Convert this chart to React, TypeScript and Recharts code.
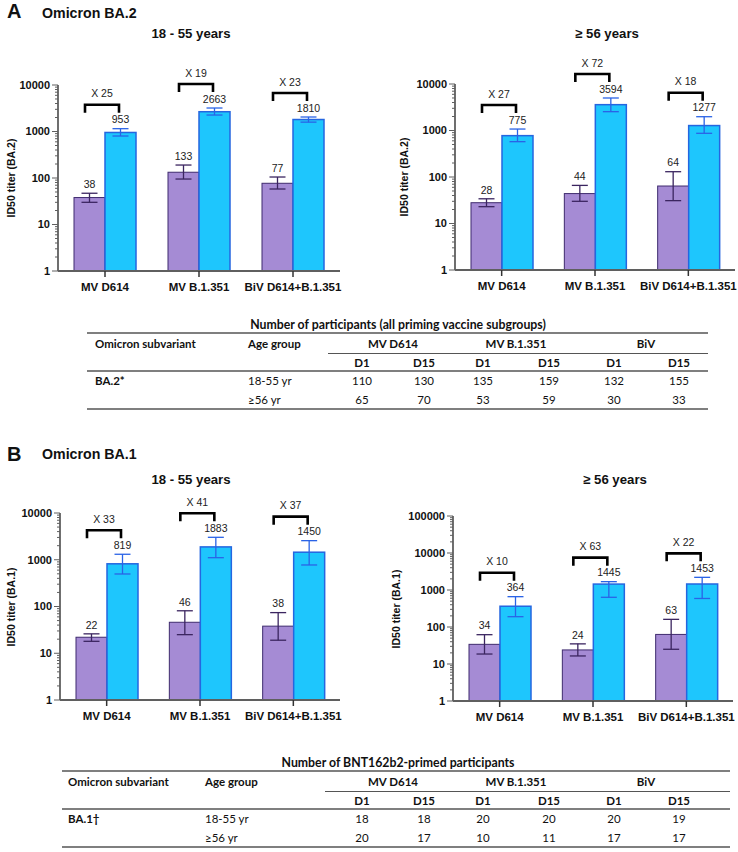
import { BarChart, Bar, XAxis, YAxis, ErrorBar } from 'recharts';

const FONT = "'Liberation Sans', Arial, sans-serif";
const TABLE_FONT = "Lato, 'Open Sans', sans-serif";
const AXIS = '#5f5f5f';
const PURPLE = '#a58bd4';
const PURPLE_EDGE = '#3f2b6e';
const BLUE = '#1ec6fd';
const BLUE_EDGE = '#2566e0';

const groups = ['MV D614', 'MV B.1.351', 'BiV D614+B.1.351'];

// A: Omicron BA.2, 18-55 years
const ba2YoungD1 = [38, 133, 77];
const ba2YoungD1Lo = [30, 95, 58];
const ba2YoungD1Hi = [47, 190, 105];
const ba2YoungD15 = [953, 2663, 1810];
const ba2YoungD15Lo = [800, 2260, 1590];
const ba2YoungD15Hi = [1150, 3200, 2050];
const ba2YoungFold = [25, 19, 23];

// A: Omicron BA.2, >= 56 years
const ba2OldD1 = [28, 44, 64];
const ba2OldD1Lo = [23, 30, 31];
const ba2OldD1Hi = [34, 66, 130];
const ba2OldD15 = [775, 3594, 1277];
const ba2OldD15Lo = [575, 2540, 870];
const ba2OldD15Hi = [1075, 5000, 1980];
const ba2OldFold = [27, 72, 18];

// B: Omicron BA.1, 18-55 years
const ba1YoungD1 = [22, 46, 38];
const ba1YoungD1Lo = [18, 25, 19];
const ba1YoungD1Hi = [26, 81, 74];
const ba1YoungD15 = [819, 1883, 1450];
const ba1YoungD15Lo = [496, 1107, 773];
const ba1YoungD15Hi = [1310, 3020, 2560];
const ba1YoungFold = [33, 41, 37];

// B: Omicron BA.1, >= 56 years
const ba1OldD1 = [34, 24, 63];
const ba1OldD1Lo = [18.6, 16.5, 25];
const ba1OldD1Hi = [62, 35, 161];
const ba1OldD15 = [364, 1445, 1453];
const ba1OldD15Lo = [190, 635, 590];
const ba1OldD15Hi = [660, 1680, 2200];
const ba1OldFold = [10, 63, 22];

const decades4 = [1, 10, 100, 1000, 10000];
const decades5 = [1, 10, 100, 1000, 10000, 100000];
const minorSteps = [2, 3, 4, 5, 6, 7, 8, 9];

// participant tables
const tableGroups = ['MV D614', 'MV B.1.351', 'BiV'];
const tableDays = ['D1', 'D15', 'D1', 'D15', 'D1', 'D15'];
const ageGroups = ['18-55 yr', '≥56 yr'];
const ba2Counts18 = [110, 130, 135, 159, 132, 155];
const ba2Counts56 = [65, 70, 53, 59, 30, 33];
const ba1Counts18 = [18, 18, 20, 20, 20, 19];
const ba1Counts56 = [20, 17, 10, 11, 17, 17];

function buildRows(d1, d1Lo, d1Hi, d15, d15Lo, d15Hi, fold) {
  return groups.map((g, i) => ({
    group: g,
    d1: d1[i],
    d1Err: [d1[i] - d1Lo[i], d1Hi[i] - d1[i]],
    d1Hi: d1Hi[i],
    d15: d15[i],
    d15Err: [d15[i] - d15Lo[i], d15Hi[i] - d15[i]],
    d15Hi: d15Hi[i],
    fold: fold[i],
  }));
}

function logTicks(decades: number[]) {
  const out: number[] = [];
  decades.forEach((d, i) => {
    out.push(d);
    if (i < decades.length - 1) minorSteps.forEach((m) => out.push(d * m));
  });
  return out;
}

// pixel y of an upper bound (base at 1)
function boundY(y: number, height: number, value: number, bound: number) {
  const perDecade = height / Math.log10(value);
  return y + height - perDecade * Math.log10(bound);
}

function LogTick(props: any) {
  const { x, y, payload } = props;
  const v = payload.value;
  const major = Math.abs(Math.log10(v) - Math.round(Math.log10(v))) < 1e-9;
  return (
    <g>
      <line x1={x - (major ? 6 : 3)} x2={x} y1={y} y2={y} stroke={AXIS} strokeWidth={1} />
      {major && (
        <text x={x - 8} y={y} dy="0.36em" textAnchor="end" fontFamily={FONT}
          fontSize={11} fontWeight={700} fill="#111">{v}</text>
      )}
    </g>
  );
}

function renderD1Bar(props: any) {
  const { x, y, width, height, payload } = props;
  const top = boundY(y, height, payload.d1, payload.d1Hi);
  return (
    <g>
      <rect x={x} y={y} width={width} height={height} fill={PURPLE} stroke={PURPLE_EDGE} strokeWidth={1} />
      <text x={x + width / 2} y={top - 9} dy="0.36em" textAnchor="middle" fontFamily={FONT}
        fontSize={10.5} fill="#222">{payload.d1}</text>
    </g>
  );
}

function renderD15Bar(props: any) {
  const { x, y, width, height, payload } = props;
  const top = boundY(y, height, payload.d15, payload.d15Hi);
  const labelY = top - 9;
  const bY = labelY - 15;
  const cx = x - 3;
  return (
    <g>
      <rect x={x} y={y} width={width} height={height} fill={BLUE} stroke={BLUE_EDGE} strokeWidth={1.5} />
      <text x={x + width / 2} y={labelY} dy="0.36em" textAnchor="middle" fontFamily={FONT}
        fontSize={10.5} fill="#222">{payload.d15}</text>
      <path d={`M${cx - 17},${bY + 8} V${bY} H${cx + 17} V${bY + 8}`} fill="none" stroke="#000" strokeWidth={2.6} />
      <text x={cx} y={bY - 11} dy="0.36em" textAnchor="middle" fontFamily={FONT}
        fontSize={10.5} fill="#222">{`X ${payload.fold}`}</text>
    </g>
  );
}

function TiterChart({ rows, left, top, width, height, axisX, plotTop, plotBottom, plotRight, decades }) {
  return (
    <div style={{ position: 'absolute', left, top }}>
      <BarChart
        width={width}
        height={height}
        data={rows}
        barGap={0}
        barSize={31}
        margin={{ top: plotTop - top, right: left + width - plotRight, bottom: 0, left: 0 }}
      >
        <XAxis
          dataKey="group"
          interval={0}
          height={top + height - plotBottom}
          tickSize={6}
          tickMargin={6}
          axisLine={{ stroke: AXIS, strokeWidth: 1.8 }}
          tickLine={{ stroke: '#333', strokeWidth: 1.5 }}
          tick={{ fontSize: 11.5, fontWeight: 700, fill: '#111', fontFamily: FONT }}
        />
        <YAxis
          type="number"
          scale="log"
          domain={[1, decades[decades.length - 1]]}
          ticks={logTicks(decades)}
          interval={0}
          width={axisX - left}
          tickSize={0}
          tickMargin={0}
          tickLine={false}
          axisLine={{ stroke: AXIS, strokeWidth: 1.8 }}
          tick={(p) => <LogTick {...p} />}
        />
        <Bar dataKey="d1" fill={PURPLE} shape={renderD1Bar} isAnimationActive={false}>
          <ErrorBar dataKey="d1Err" direction="y" width={8} stroke="#3b2560" strokeWidth={1.3} />
        </Bar>
        <Bar dataKey="d15" fill={BLUE} shape={renderD15Bar} isAnimationActive={false}>
          <ErrorBar dataKey="d15Err" direction="y" width={8} stroke="#2a63e6" strokeWidth={1.3} />
        </Bar>
      </BarChart>
    </div>
  );
}

const colX = [362, 424, 483, 549, 614, 679];
const groupX = [393, 516, 646];

function CountTable({ t, xLeft, xRight, variantX, ageX, subX, title, variant, counts }) {
  const txt = (x, y, s, opts: any = {}) => (
    <text x={x} y={y} dy="0.36em" fontFamily={TABLE_FONT} fontSize={11.5} fill="#111" {...opts}>{s}</text>
  );
  return (
    <g>
      {txt(398, t, title, { textAnchor: 'middle', fontWeight: 700, fontSize: 12.3 })}
      <line x1={xLeft} x2={xRight} y1={t + 8} y2={t + 8} stroke="#555" strokeWidth={1.3} />
      {txt(variantX, t + 18.5, 'Omicron subvariant', { fontWeight: 700 })}
      {txt(ageX, t + 18.5, 'Age group', { fontWeight: 700 })}
      {tableGroups.map((g, i) => (
        <g key={g}>{txt(groupX[i], t + 18.5, g, { textAnchor: 'middle', fontWeight: 700 })}</g>
      ))}
      <line x1={subX} x2={xRight} y1={t + 28.5} y2={t + 28.5} stroke="#555" strokeWidth={1} />
      {tableDays.map((d, i) => (
        <g key={i}>{txt(colX[i], t + 37.5, d, { textAnchor: 'middle', fontWeight: 700 })}</g>
      ))}
      <line x1={xLeft} x2={xRight} y1={t + 46} y2={t + 46} stroke="#555" strokeWidth={1.3} />
      {txt(variantX, t + 55.5, variant, { fontWeight: 700 })}
      {ageGroups.map((a, r) => (
        <g key={a}>
          {txt(ageX, t + 55.5 + r * 19, a)}
          {counts[r].map((c, i) => (
            <g key={i}>{txt(colX[i], t + 55.5 + r * 19, c, { textAnchor: 'middle' })}</g>
          ))}
        </g>
      ))}
      <line x1={xLeft} x2={xRight} y1={t + 84} y2={t + 84} stroke="#555" strokeWidth={1.3} />
    </g>
  );
}

export default function App() {
  const bold = { fontFamily: FONT, fontWeight: 700, fill: '#111' };
  const yTitle = (x, y, s) => (
    <text x={x} y={y} dy="0.36em" textAnchor="middle" transform={`rotate(-90 ${x} ${y})`}
      fontSize={10.5} {...bold}>{s}</text>
  );
  return (
    <div style={{ position: 'absolute', left: 0, top: 0, width: 738, height: 852, background: '#fff', overflow: 'hidden' }}>
      <TiterChart
        rows={buildRows(ba2YoungD1, ba2YoungD1Lo, ba2YoungD1Hi, ba2YoungD15, ba2YoungD15Lo, ba2YoungD15Hi, ba2YoungFold)}
        left={0} top={0} width={370} height={305} axisX={58} plotTop={85} plotBottom={271} plotRight={340} decades={decades4}
      />
      <TiterChart
        rows={buildRows(ba2OldD1, ba2OldD1Lo, ba2OldD1Hi, ba2OldD15, ba2OldD15Lo, ba2OldD15Hi, ba2OldFold)}
        left={370} top={0} width={368} height={305} axisX={455} plotTop={84} plotBottom={270} plotRight={735} decades={decades4}
      />
      <TiterChart
        rows={buildRows(ba1YoungD1, ba1YoungD1Lo, ba1YoungD1Hi, ba1YoungD15, ba1YoungD15Lo, ba1YoungD15Hi, ba1YoungFold)}
        left={0} top={425} width={370} height={305} axisX={60} plotTop={513} plotBottom={700} plotRight={340} decades={decades4}
      />
      <TiterChart
        rows={buildRows(ba1OldD1, ba1OldD1Lo, ba1OldD1Hi, ba1OldD15, ba1OldD15Lo, ba1OldD15Hi, ba1OldFold)}
        left={370} top={425} width={368} height={305} axisX={453} plotTop={516} plotBottom={701} plotRight={733} decades={decades5}
      />
      <svg width={738} height={852} style={{ position: 'absolute', left: 0, top: 0, pointerEvents: 'none' }}>
        <text x={7} y={18} fontSize={20} {...bold}>A</text>
        <text x={42} y={13} dy="0.36em" fontSize={14.2} {...bold}>Omicron BA.2</text>
        <text x={191} y={33} dy="0.36em" textAnchor="middle" fontSize={13.2} {...bold}>18 - 55 years</text>
        <text x={607} y={33} dy="0.36em" textAnchor="middle" fontSize={13.2} {...bold}>≥ 56 years</text>
        {yTitle(11, 178, 'ID50 titer (BA.2)')}
        {yTitle(404, 177, 'ID50 titer (BA.2)')}

        <text x={7} y={461} fontSize={20} {...bold}>B</text>
        <text x={42} y={454} dy="0.36em" fontSize={14.2} {...bold}>Omicron BA.1</text>
        <text x={191} y={479} dy="0.36em" textAnchor="middle" fontSize={13.2} {...bold}>18 - 55 years</text>
        <text x={615} y={479} dy="0.36em" textAnchor="middle" fontSize={13.2} {...bold}>≥ 56 years</text>
        {yTitle(11, 607, 'ID50 titer (BA.1)')}
        {yTitle(396, 609, 'ID50 titer (BA.1)')}

        <CountTable t={325} xLeft={87} xRight={708} variantX={95} ageX={248} subX={328}
          title="Number of participants (all priming vaccine subgroups)" variant="BA.2*"
          counts={[ba2Counts18, ba2Counts56]} />
        <CountTable t={763} xLeft={62} xRight={730} variantX={68} ageX={205} subX={325}
          title="Number of BNT162b2-primed participants" variant="BA.1†"
          counts={[ba1Counts18, ba1Counts56]} />
      </svg>
    </div>
  );
}
